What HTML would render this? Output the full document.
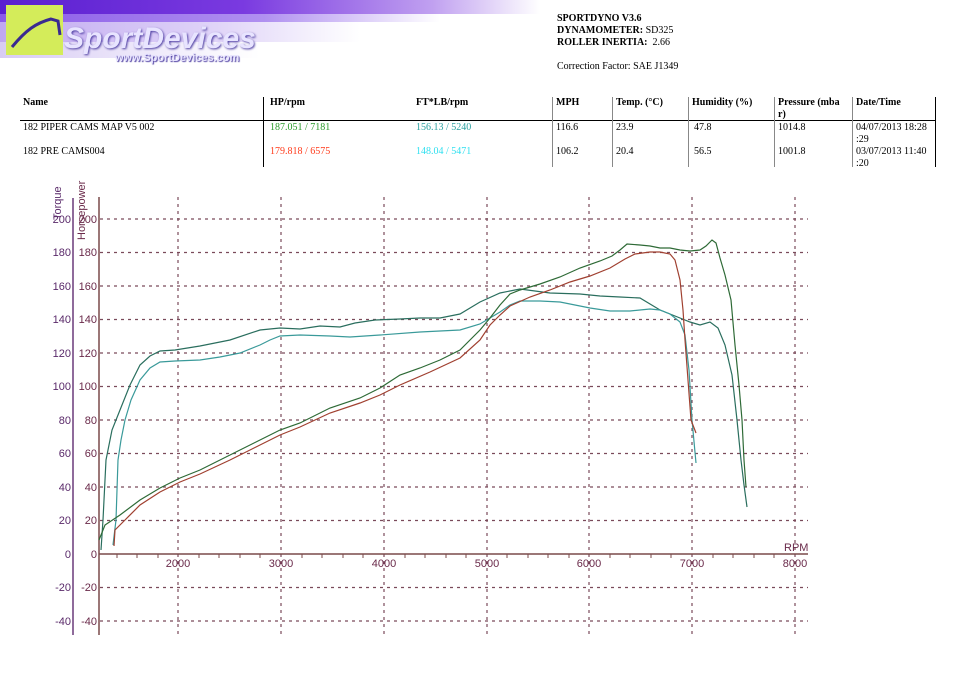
<!DOCTYPE html>
<html><head><meta charset="utf-8"><style>
body{margin:0;width:960px;height:677px;background:#fff;position:relative;overflow:hidden;font-family:"Liberation Serif",serif;}
.t{position:absolute;font-size:10px;color:#000;white-space:nowrap;}
b{font-weight:bold}
</style></head><body>
<div style="position:absolute;left:0;top:0;width:540px;height:14px;background:linear-gradient(90deg,#5a1fd0 0%,#7a3ae0 45%,#c0a0f0 80%,#fff 100%)"></div>
<div style="position:absolute;left:0;top:14px;width:440px;height:8px;background:linear-gradient(90deg,#8a5ae8,#b090f0 60%,#fff)"></div>
<div style="position:absolute;left:0;top:22px;width:360px;height:20px;background:linear-gradient(90deg,#c0a8f0,#e0d4f8 60%,#fff)"></div>
<div style="position:absolute;left:0;top:42px;width:260px;height:16px;background:linear-gradient(90deg,#d8ccf4,#fff)"></div>
<div style="position:absolute;left:6px;top:5px;width:57px;height:50px;background:#d4ec5a"></div>
<svg style="position:absolute;left:6px;top:5px" width="57" height="50"><path d="M6 42 C20 25 30 18 45 14 L52 16 L54 30" stroke="#3a2a90" stroke-width="3" fill="none"/></svg>
<div class="t" style="left:64px;top:22px;font:italic bold 30px 'Liberation Sans',sans-serif;color:#e8e4ff;text-shadow:1px 1px 2px #4a3aa0">SportDevices</div>
<div class="t" style="left:115px;top:52px;font:bold 11px 'Liberation Sans',sans-serif;color:#e8e4ff;text-shadow:1px 1px 1px #4a3aa0">www.SportDevices.com</div>

<div class="t" style="left:557px;top:13px;line-height:12px"><b>SPORTDYNO V3.6</b><br><b>DYNAMOMETER:</b> SD325<br><b>ROLLER INERTIA:</b>&nbsp; 2.66</div>
<div class="t" style="left:557px;top:61px">Correction Factor: SAE J1349</div>

<div style="position:absolute;left:20px;top:120px;width:916px;height:1px;background:#000"></div>
<div style="position:absolute;left:263px;top:97px;width:1px;height:70px;background:#000"></div>
<div style="position:absolute;left:935px;top:97px;width:1px;height:70px;background:#000"></div>
<div class="t" style="left:23px;top:97px"><b>Name</b></div>
<div class="t" style="left:270px;top:97px"><b>HP/rpm</b></div>
<div class="t" style="left:416px;top:97px"><b>FT*LB/rpm</b></div>
<div class="t" style="left:556px;top:97px"><b>MPH</b></div>
<div class="t" style="left:616px;top:97px"><b>Temp. (°C)</b></div>
<div class="t" style="left:692px;top:97px"><b>Humidity (%)</b></div>
<div class="t" style="left:778px;top:97px;line-height:12px"><b>Pressure (mba<br>r)</b></div>
<div class="t" style="left:856px;top:97px"><b>Date/Time</b></div>
<div style="position:absolute;left:552px;top:97px;width:1px;height:70px;background:#888"></div>
<div style="position:absolute;left:612px;top:97px;width:1px;height:70px;background:#888"></div>
<div style="position:absolute;left:688px;top:97px;width:1px;height:70px;background:#888"></div>
<div style="position:absolute;left:774px;top:97px;width:1px;height:70px;background:#888"></div>
<div style="position:absolute;left:852px;top:97px;width:1px;height:70px;background:#888"></div>
<div class="t" style="left:23px;top:122px">182 PIPER CAMS MAP V5 002</div>
<div class="t" style="left:270px;top:122px;color:#2a9a2a">187.051 / 7181</div>
<div class="t" style="left:416px;top:122px;color:#2aa0a0">156.13 / 5240</div>
<div class="t" style="left:556px;top:122px">116.6</div>
<div class="t" style="left:616px;top:122px">23.9</div>
<div class="t" style="left:694px;top:122px">47.8</div>
<div class="t" style="left:778px;top:122px">1014.8</div>
<div class="t" style="left:856px;top:122px;line-height:12px">04/07/2013 18:28<br>:29</div>
<div class="t" style="left:23px;top:146px">182 PRE CAMS004</div>
<div class="t" style="left:270px;top:146px;color:#ff3a1a">179.818 / 6575</div>
<div class="t" style="left:416px;top:146px;color:#30e0f0">148.04 / 5471</div>
<div class="t" style="left:556px;top:146px">106.2</div>
<div class="t" style="left:616px;top:146px">20.4</div>
<div class="t" style="left:694px;top:146px">56.5</div>
<div class="t" style="left:778px;top:146px">1001.8</div>
<div class="t" style="left:856px;top:146px;line-height:12px">03/07/2013 11:40<br>:20</div>

<svg style="position:absolute;left:0;top:0" width="960" height="677" font-family="Liberation Sans, sans-serif" font-size="11">
<g stroke="#7a4a5a" stroke-width="1.2" stroke-dasharray="3,4">
<line x1="100" x2="808" y1="219" y2="219"/><line x1="100" x2="808" y1="252.5" y2="252.5"/><line x1="100" x2="808" y1="286" y2="286"/><line x1="100" x2="808" y1="319.5" y2="319.5"/><line x1="100" x2="808" y1="353" y2="353"/><line x1="100" x2="808" y1="386.5" y2="386.5"/><line x1="100" x2="808" y1="420" y2="420"/><line x1="100" x2="808" y1="453.5" y2="453.5"/><line x1="100" x2="808" y1="487" y2="487"/><line x1="100" x2="808" y1="520.5" y2="520.5"/><line x1="100" x2="808" y1="587.5" y2="587.5"/><line x1="100" x2="808" y1="621" y2="621"/>
<line x1="178" x2="178" y1="197" y2="635"/><line x1="281" x2="281" y1="197" y2="635"/><line x1="384" x2="384" y1="197" y2="635"/><line x1="487" x2="487" y1="197" y2="635"/><line x1="589" x2="589" y1="197" y2="635"/><line x1="692" x2="692" y1="197" y2="635"/><line x1="795" x2="795" y1="197" y2="635"/>
</g>
<line x1="73" x2="73" y1="198" y2="635" stroke="#6a3a7a" stroke-width="1.5"/>
<line x1="99" x2="99" y1="197" y2="635" stroke="#7a4a4a" stroke-width="1.5"/>
<line x1="99" x2="808" y1="554" y2="554" stroke="#7a4a4a" stroke-width="1.5"/>
<g stroke="#7a4a4a"><path d="M117 554v4M137 554v4M158 554v4M199 554v4M219 554v4M240 554v4M260 554v4M302 554v4M322 554v4M343 554v4M363 554v4M405 554v4M425 554v4M446 554v4M466 554v4M507 554v4M528 554v4M548 554v4M569 554v4M610 554v4M630 554v4M651 554v4M671 554v4M713 554v4M733 554v4M754 554v4M774 554v4"/></g>
<g fill="#5a2a6a" text-anchor="end">
<text x="71" y="223">200</text><text x="71" y="256">180</text><text x="71" y="290">160</text><text x="71" y="323">140</text><text x="71" y="357">120</text><text x="71" y="390">100</text><text x="71" y="424">80</text><text x="71" y="457">60</text><text x="71" y="491">40</text><text x="71" y="524">20</text><text x="71" y="558">0</text><text x="71" y="591">-20</text><text x="71" y="625">-40</text>
</g>
<g fill="#6a2a4a" text-anchor="end">
<text x="97" y="223">200</text><text x="97" y="256">180</text><text x="97" y="290">160</text><text x="97" y="323">140</text><text x="97" y="357">120</text><text x="97" y="390">100</text><text x="97" y="424">80</text><text x="97" y="457">60</text><text x="97" y="491">40</text><text x="97" y="524">20</text><text x="97" y="558">0</text><text x="97" y="591">-20</text><text x="97" y="625">-40</text>
</g>
<g fill="#6a2a4a" text-anchor="middle">
<text x="178" y="567">2000</text><text x="281" y="567">3000</text><text x="384" y="567">4000</text><text x="487" y="567">5000</text><text x="589" y="567">6000</text><text x="692" y="567">7000</text><text x="795" y="567">8000</text>
</g>
<text x="784" y="551" fill="#6a2a4a">RPM</text>
<text transform="translate(61,220) rotate(-90)" fill="#5a2a6a">Torque</text>
<text transform="translate(85,240) rotate(-90)" fill="#6a2a4a">Horsepower</text>
<g fill="none" stroke-width="1.2">
<polyline stroke="#2a6e5e" points="101,550 103,520 106,460 112,430 120,410 130,385 140,365 150,356 160,351 175,350 200,346 230,340 260,330 280,328 300,329 320,326 340,327 355,323 375,320 400,319 420,318 440,318 460,314 480,302 500,293 520,289 550,293 580,294 600,296 620,297 640,298 660,310 680,318 690,322 700,325 710,322 718,328 725,345 732,375 737,420 741,460 744,485 747,507"/>
<polyline stroke="#3a9a9a" points="113,545 116,520 117,490 118,460 121,440 125,420 131,400 140,380 150,368 160,362 175,361 200,360 220,357 240,353 260,345 270,340 280,336 300,335 330,336 350,337 380,335 420,332 460,330 480,324 500,312 510,305 520,301 540,301 560,302 590,308 610,311 630,311 650,309 660,310 670,314 680,322 685,335 689,370 692,420 696,463"/>
<polyline stroke="#2e6a36" points="99,540 105,525 120,515 140,500 160,488 180,478 200,470 230,455 260,440 280,430 300,423 330,408 360,398 380,388 400,375 420,368 440,360 460,350 470,340 480,330 490,318 500,305 510,294 520,290 540,284 560,277 580,268 600,261 612,256 620,250 627,244 640,245 650,246 660,248 670,248 680,250 690,251 700,250 706,246 712,240 716,243 720,258 725,275 731,300 735,345 739,385 742,420 744,460 746,487"/>
<polyline stroke="#a04030" points="114,546 115,530 125,520 140,505 160,492 180,482 200,474 230,460 260,445 280,435 300,427 330,413 360,403 380,395 400,385 430,372 460,358 480,340 490,325 500,315 510,306 530,297 550,290 570,282 590,276 610,268 625,259 635,254 650,252 660,252 670,254 675,260 680,280 683,310 685,340 688,380 691,420 696,433"/>
</g>
</svg>
</body></html>
